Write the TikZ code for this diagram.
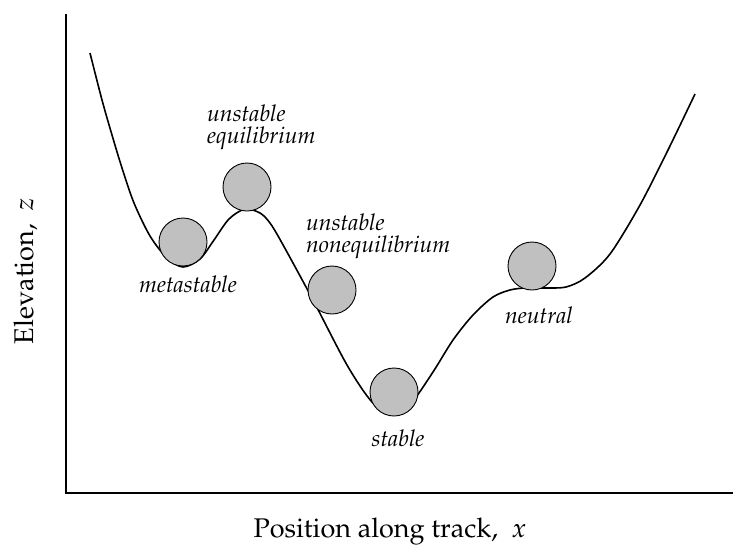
\documentclass[tikz,border=0pt]{standalone}
\usepackage[T1]{fontenc}
\usepackage{mathpazo}
\usepackage{tikz}
\usetikzlibrary{positioning}
\definecolor{ballgray}{HTML}{C0C0C0}

\begin{document}
\begin{tikzpicture}[x=1pt, y=-1pt,
    ball/.style={draw=black, line width=0.9pt, fill=ballgray, circle, minimum size=48pt, inner sep=0pt},
    state/.style={font=\fontsize{23}{22}\selectfont\itshape, inner sep=0pt},
    axislabel/.style={font=\fontsize{27}{30}\selectfont, inner sep=0pt}]
    \useasboundingbox (0,0) rectangle (733,546);
    % axes
    \coordinate (top) at (66,14);
    \coordinate (origin) at (66,493);
    \coordinate (right) at (733,493);
    \draw[line width=1.9pt] (top) -- (origin) -- (right);
    % track
    \draw[line width=1.6pt] plot[smooth, tension=0.5] coordinates {
      (90,53) (102,100) (112,135) (122,168) (134,203) (150,236) (167,258)
      (183,267) (200,259) (214,240) (229,219) (245,209) (260,213) (270,223)
      (282,243) (313,300) (347,365) (372,402) (393,415) (412,402) (433,372)
      (453,340) (473,315) (493,297) (510,290) (525,288) (545,288) (566,287)
      (585,278) (610,254) (640,205) (668,150) (695,94)};
    % balls
    \node[ball] (meta) at (183,242) {};
    \node[ball] (uneq) at (247,187) {};
    \node[ball] (unnoneq) at (332,290) {};
    \node[ball] (stab) at (394,392) {};
    \node[ball] (neut) at (532,266) {};
    % labels
    \node[state, anchor=base] (metalbl) at (188,292) {metastable};
    \node[state, align=left, anchor=base west] (uneqlbl) at (207,143) {unstable\\equilibrium};
    \node[state, align=left, anchor=base west] (unnoneqlbl) at (306,252) {unstable\\nonequilibrium};
    \node[state, anchor=base] (stablbl) at (398,446) {stable};
    \node[state, anchor=base] (neutlbl) at (539,323) {neutral};
    \node[axislabel, rotate=90, anchor=base] (zlbl) at (33,271) {Elevation,\ \ $z$};
    \node[axislabel, anchor=base] (xlbl) at (390,537) {Position along track,\ \ $x$};
  \end{tikzpicture}
\end{document}
